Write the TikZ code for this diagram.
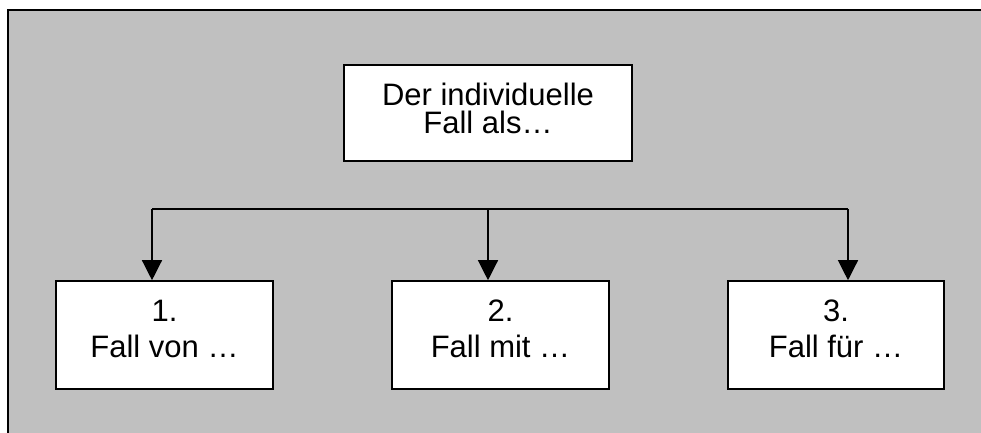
\documentclass[tikz,border=0pt]{standalone}
\usepackage{fontspec}
\setmainfont{Liberation Sans}
\usetikzlibrary{arrows.meta}
\definecolor{panelgray}{HTML}{C0C0C0}
\tikzset{
  panel/.style={draw=black, line width=2pt, fill=panelgray},
  casebox/.style={draw=black, line width=1.6pt, fill=white, inner sep=0pt},
  boxtext/.style={anchor=base, inner sep=0pt, font=\fontsize{31}{36}\selectfont},
  link/.style={draw=black, line width=1.3pt},
  drop/.style={link, -{Triangle[width=20pt,length=20pt]}}
}
\begin{document}
\begin{tikzpicture}[x=1pt, y=-1pt]
  \useasboundingbox (0,0) rectangle (981,432);
  \clip (0,0) rectangle (981,432);
  % grey background panel, running off the right and bottom edges
  \draw[panel] (8,10) rectangle (1000,450);

  % boxes
  \node[casebox, minimum width=288pt, minimum height=96pt] (top) at (488,113) {};
  \node[casebox, minimum width=217pt, minimum height=108pt] (b1) at (164.5,335) {};
  \node[casebox, minimum width=217pt, minimum height=108pt] (b2) at (500.5,335) {};
  \node[casebox, minimum width=216pt, minimum height=108pt] (b3) at (836,335) {};

  % box labels
  \node[boxtext] (t1) at (488,105) {Der individuelle};
  \node[boxtext] (t2) at (488,133.5) {Fall als…};
  \node[boxtext] (n1) at (164.5,321) {1.};
  \node[boxtext] (l1) at (164.5,357.5) {Fall von …};
  \node[boxtext] (n2) at (500.5,321) {2.};
  \node[boxtext] (l2) at (500.5,357.5) {Fall mit …};
  \node[boxtext] (n3) at (836,321) {3.};
  \node[boxtext] (l3) at (836,357.5) {Fall für …};

  % distribution bus with three drops
  \coordinate (busL) at (152,209);
  \coordinate (busM) at (488,209);
  \coordinate (busR) at (848,209);
  \draw[link] (busL) -- (busR);
  \draw[drop] (busL) -- (busL |- b1.north);
  \draw[drop] (busM) -- (busM |- b2.north);
  \draw[drop] (busR) -- (busR |- b3.north);
\end{tikzpicture}
\end{document}
